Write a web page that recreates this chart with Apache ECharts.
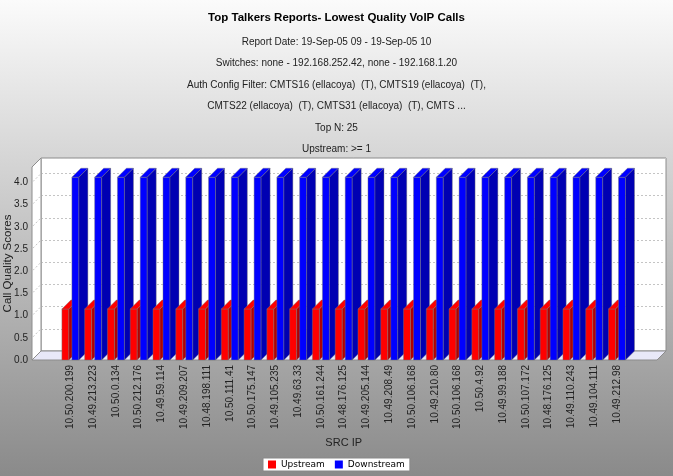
<!DOCTYPE html>
<html>
<head>
<meta charset="utf-8">
<script src="https://cdn.jsdelivr.net/npm/echarts@6/dist/echarts.min.js"></script>
<style>
  html, body { margin: 0; padding: 0; }
  #chart { width: 673px; height: 476px; }
</style>
</head>
<body>
<div id="chart"></div>
<script>
// data
var titleText = 'Top Talkers Reports- Lowest Quality VoIP Calls';
var subLines = [
  'Report Date: 19-Sep-05 09 - 19-Sep-05 10',
  'Switches: none - 192.168.252.42, none - 192.168.1.20',
  'Auth Config Filter: CMTS16 (ellacoya)  (T), CMTS19 (ellacoya)  (T),',
  'CMTS22 (ellacoya)  (T), CMTS31 (ellacoya)  (T), CMTS ...',
  'Top N: 25',
  'Upstream: >= 1'
];
var srcIps = [
  '10.50.200.199', '10.49.213.223', '10.50.0.134', '10.50.212.176', '10.49.59.114',
  '10.49.209.207', '10.48.198.111', '10.50.111.41', '10.50.175.147', '10.49.105.235',
  '10.49.63.33', '10.50.161.244', '10.48.176.125', '10.49.205.144', '10.49.208.49',
  '10.50.106.168', '10.49.210.80', '10.50.106.168', '10.50.4.92', '10.49.99.188',
  '10.50.107.172', '10.48.176.125', '10.49.110.243', '10.49.104.111', '10.49.212.98'
];
var upstream = [1.15, 1.15, 1.15, 1.15, 1.15, 1.15, 1.15, 1.15, 1.15, 1.15, 1.15, 1.15, 1.15,
  1.15, 1.15, 1.15, 1.15, 1.15, 1.15, 1.15, 1.15, 1.15, 1.15, 1.15, 1.15];
var downstream = [4.12, 4.12, 4.12, 4.12, 4.12, 4.12, 4.12, 4.12, 4.12, 4.12, 4.12, 4.12, 4.12,
  4.12, 4.12, 4.12, 4.12, 4.12, 4.12, 4.12, 4.12, 4.12, 4.12, 4.12, 4.12];
var yTicks = [0.5, 1, 1.5, 2, 2.5, 3, 3.5, 4];
var yMax = 4.35;

var D = 9; // 3d depth offset in px
var sans = '"Liberation Sans", Arial, sans-serif';

function face(points, fill) {
  return {
    type: 'polygon',
    shape: { points: points },
    style: { fill: fill, stroke: 'rgba(120,120,120,0.7)', lineWidth: 0.6 }
  };
}

function renderFrame(params, api) {
  var cs = params.coordSys;
  var x = cs.x, y = cs.y, w = cs.width, h = cs.height;
  var children = [
    {
      type: 'polygon',
      shape: { points: [[x, y], [x + D, y - D], [x + D, y + h - D], [x, y + h]] },
      style: { fill: '#ffffff', stroke: '#8c8c8c', lineWidth: 1 }
    },
    {
      type: 'polygon',
      shape: { points: [[x, y + h], [x + D, y + h - D], [x + w + D, y + h - D], [x + w, y + h]] },
      style: { fill: '#e8e8f8', stroke: '#8c8c8c', lineWidth: 1 }
    }
  ];
  yTicks.forEach(function (t) {
    var yy = api.coord([0, t])[1];
    children.push({
      type: 'line',
      shape: { x1: x + 1, y1: yy - 1, x2: x + D, y2: yy - D },
      style: { stroke: '#c4c4c4', lineWidth: 1, lineDash: [2, 2] }
    });
  });
  return { type: 'group', children: children };
}

function renderBars(params, api) {
  var i = api.value(0);
  var base = api.coord([i, 0]);
  var cw = api.size([1, 0])[0];
  var bw = cw * 0.307, gap = cw * 0.132;
  var bars = [
    [api.value(1), -gap / 2 - bw, '#ff0000', '#b20000'],
    [api.value(2), gap / 2, '#0000ff', '#0000b2']
  ];
  var children = [];
  bars.forEach(function (b) {
    var y0 = api.coord([i, b[0]])[1], y1 = base[1];
    var x0 = base[0] + b[1], x1 = x0 + bw;
    children.push(face([[x0, y0], [x1, y0], [x1, y1], [x0, y1]], b[2]));
    children.push(face([[x0, y0], [x0 + D, y0 - D], [x1 + D, y0 - D], [x1, y0]], b[2]));
    children.push(face([[x1, y0], [x1 + D, y0 - D], [x1 + D, y1 - D], [x1, y1]], b[3]));
  });
  return { type: 'group', children: children };
}

var chart = echarts.init(document.getElementById('chart'));
chart.setOption({
  animation: false,
  backgroundColor: new echarts.graphic.LinearGradient(0, 0, 0, 1, [
    { offset: 0, color: '#fbfbfb' },
    { offset: 1, color: '#8a8a8a' }
  ]),
  title: {
    text: titleText,
    subtext: subLines.join('\n'),
    left: 'center',
    top: 12,
    padding: 0,
    itemGap: 7,
    textStyle: { fontFamily: sans, fontSize: 11.5, fontWeight: 'bold', color: '#000' },
    subtextStyle: { fontFamily: sans, fontSize: 10, lineHeight: 21.5, color: '#222' }
  },
  legend: {
    data: ['Upstream', 'Downstream'],
    left: 263,
    top: 458,
    icon: 'rect',
    itemWidth: 8,
    itemHeight: 8,
    itemGap: 10,
    padding: [2, 5],
    backgroundColor: '#ffffff',
    borderColor: '#888',
    borderWidth: 1,
    textStyle: { fontFamily: '"DejaVu Sans", sans-serif', fontSize: 9, color: '#000' }
  },
  grid: [
    // back wall
    { left: 41, top: 158, width: 625, height: 193, outerBoundsMode: 'none', show: true, backgroundColor: '#ffffff', borderColor: '#8c8c8c', borderWidth: 1 },
    // front plane (value axis)
    { left: 32, top: 167, width: 625, height: 193, outerBoundsMode: 'none' },
    // category area
    { left: 59, top: 167, width: 569.4, height: 193, outerBoundsMode: 'none' }
  ],
  xAxis: [
    { gridIndex: 0, type: 'value', show: false, min: 0, max: 1 },
    { gridIndex: 1, type: 'value', show: false, min: 0, max: 1 },
    {
      gridIndex: 2, type: 'category', data: srcIps,
      axisLine: { show: false }, axisTick: { show: false },
      axisLabel: { rotate: 90, interval: 0, margin: 5, fontFamily: sans, fontSize: 10, color: '#222' },
      name: 'SRC IP', nameLocation: 'middle', nameGap: 77, nameMoveOverlap: false,
      nameTextStyle: { fontFamily: sans, fontSize: 11, color: '#222' }
    }
  ],
  yAxis: [
    {
      gridIndex: 0, type: 'value', min: 0, max: yMax, interval: 0.5,
      axisLine: { show: false }, axisTick: { show: false }, axisLabel: { show: false },
      splitLine: { lineStyle: { color: '#c4c4c4', type: [2, 2] } }
    },
    {
      gridIndex: 1, type: 'value', min: 0, max: yMax, interval: 0.5,
      axisLine: { show: false }, axisTick: { show: false }, splitLine: { show: false },
      axisLabel: {
        margin: 4, padding: [6, 0, 0, 0], fontFamily: sans, fontSize: 10, color: '#222', showMaxLabel: false,
        formatter: function (v) { return v.toFixed(1); }
      },
      name: 'Call Quality Scores', nameLocation: 'middle', nameGap: 18, nameMoveOverlap: false,
      nameTextStyle: { fontFamily: sans, fontSize: 11.5, color: '#222' }
    },
    { gridIndex: 2, type: 'value', min: 0, max: yMax, show: false, splitLine: { show: false } }
  ],
  series: [
    {
      type: 'custom', xAxisIndex: 1, yAxisIndex: 1, z: 1, silent: true, clip: false,
      renderItem: renderFrame, data: [[0, 0]]
    },
    {
      type: 'custom', xAxisIndex: 2, yAxisIndex: 2, z: 3, clip: false,
      renderItem: renderBars,
      encode: { x: 0, y: [1, 2] },
      data: srcIps.map(function (ip, i) { return [i, upstream[i], downstream[i]]; })
    },
    { name: 'Upstream', type: 'bar', xAxisIndex: 2, yAxisIndex: 2, itemStyle: { color: '#ff0000' }, data: [] },
    { name: 'Downstream', type: 'bar', xAxisIndex: 2, yAxisIndex: 2, itemStyle: { color: '#0000ff' }, data: [] }
  ]
});
</script>
</body>
</html>
